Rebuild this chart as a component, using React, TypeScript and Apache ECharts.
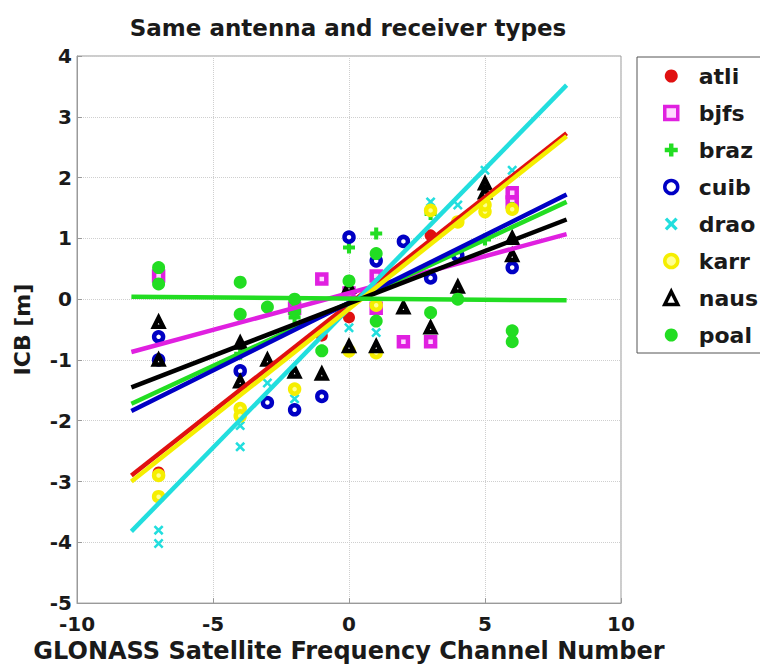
import React, { useEffect, useRef } from "react";
import * as echarts from "echarts";

const stations = ["atli", "bjfs", "braz", "cuib", "drao", "karr", "naus", "poal"];

const atliPts = [[-7, -2.85], [-4, -1.8], [-1, -0.6], [0, -0.3], [3, 1.05], [5, 1.5], [6, 1.7]];
const bjfsPts = [[-7, 0.38], [-2, -0.15], [-1, 0.33], [0, 0.1], [1, 0.38], [1, -0.15], [2, -0.7], [3, -0.7], [6, 1.75], [6, 1.6]];
const brazPts = [[-4, -0.9], [-2, -0.3], [-1, -0.85], [0, 0.85], [1, 1.08], [3, 1.4], [5, 0.98], [6, 1.5]];
const cuibPts = [[-7, -0.62], [-7, -1.0], [-4, -1.18], [-3, -1.7], [-2, -1.82], [-1, -1.6], [0, 1.02], [1, 0.63], [2, 0.95], [3, 0.35], [4, 0.72], [6, 0.52]];
const draoPts = [[-7, -3.8], [-7, -4.02], [-4, -2.08], [-4, -2.43], [-3, -1.38], [-2, -1.64], [0, -0.47], [1, -0.55], [3, 1.6], [4, 1.55], [5, 2.12], [6, 2.12]];
const karrPts = [[-7, -2.9], [-7, -3.25], [-4, -1.8], [-4, -1.92], [-2, -1.48], [0, -0.85], [1, -0.88], [1, -0.1], [3, 1.46], [4, 1.27], [5, 1.44], [5, 1.55], [6, 1.48]];
const nausPts = [[-7, -0.38], [-7, -1.0], [-4, -0.72], [-4, -1.36], [-3, -1.0], [-2, -1.2], [-1, -1.23], [0, 0.2], [0, -0.78], [1, -0.78], [2, -0.14], [3, -0.47], [4, 0.2], [5, 1.9], [5, 1.75], [6, 1.0], [6, 0.72]];
const poalPts = [[-7, 0.52], [-7, 0.25], [-4, 0.28], [-4, -0.25], [-3, -0.13], [-2, 0.0], [-2, -0.2], [-1, -0.85], [0, 0.3], [1, 0.75], [1, -0.36], [3, -0.22], [4, 0.0], [6, -0.52], [6, -0.7]];

const points = [atliPts, bjfsPts, brazPts, cuibPts, draoPts, karrPts, nausPts, poalPts];

// linear fit end values at channel -8 and +8
const fitX = [-8, 8];
const atliFit = [-2.9, 2.73];
const bjfsFit = [-0.87, 1.07];
const brazFit = [-1.72, 1.6];
const cuibFit = [-1.84, 1.72];
const draoFit = [-3.82, 3.52];
const karrFit = [-3.0, 2.68];
const nausFit = [-1.45, 1.31];
const poalFit = [0.04, -0.02];
const fits = [atliFit, bjfsFit, brazFit, cuibFit, draoFit, karrFit, nausFit, poalFit];

const xTicks = [-10, -5, 0, 5, 10];
const yTicks = [-5, -4, -3, -2, -1, 0, 1, 2, 3, 4];

const colors = ["#e01010", "#e020e0", "#22dd22", "#0000c4", "#22dede", "#f5ee00", "#000000", "#22dd22"];

const PLUS = "path://M3.3,0H6.7V3.3H10V6.7H6.7V10H3.3V6.7H0V3.3H3.3Z";
const CROSS = "path://M0,1.8L1.8,0L5,3.2L8.2,0L10,1.8L6.8,5L10,8.2L8.2,10L5,6.8L1.8,10L0,8.2L3.2,5Z";

const styles: any[] = [
  { symbol: "circle", size: 12, item: { color: colors[0], opacity: 1 } },
  { symbol: "rect", size: 9, item: { color: "#ffd8ff", borderColor: colors[1], borderWidth: 4.5, opacity: 1 } },
  { symbol: PLUS, size: 12, item: { color: colors[2], opacity: 1 } },
  { symbol: "circle", size: 9, item: { color: "#ffffff", borderColor: colors[3], borderWidth: 4.5, opacity: 1 } },
  { symbol: CROSS, size: 10, item: { color: colors[4], opacity: 1 } },
  { symbol: "circle", size: 9, item: { color: "#ffff90", borderColor: colors[5], borderWidth: 4.5, opacity: 1 } },
  { symbol: "triangle", size: 9, item: { color: "#ffffff", borderColor: colors[6], borderWidth: 4.5, opacity: 1 } },
  { symbol: "circle", size: 13, item: { color: colors[7], opacity: 1 } },
];

const FONT = "'DejaVu Sans', Arial, sans-serif";

export default function App() {
  const ref = useRef<HTMLDivElement>(null);
  useEffect(() => {
    const chart = echarts.init(ref.current!, null, { renderer: "svg" });
    const scatterSeries = stations.map((s, i) => ({
      name: s,
      type: "scatter",
      data: points[i],
      symbol: styles[i].symbol,
      symbolSize: styles[i].size,
      itemStyle: styles[i].item,
      z: 2,
    }));
    const lineSeries = stations.map((s, i) => ({
      name: s + " fit",
      type: "line",
      data: fitX.map((x, k) => [x, fits[i][k]]),
      showSymbol: false,
      symbol: "none",
      lineStyle: { color: colors[i], width: 4.5 },
      z: 3,
    }));
    chart.setOption({
      animation: false,
      backgroundColor: "#ffffff",
      title: {
        text: "Same antenna and receiver types",
        left: 343,
        top: 11,
        textAlign: "center",
        textStyle: { fontFamily: FONT, fontSize: 23, fontWeight: "bold", color: "#1a1a1a" },
      },
      legend: {
        orient: "vertical",
        left: 637,
        top: 57,
        padding: [8, 60, 7, 26],
        itemWidth: 13,
        itemHeight: 13,
        itemGap: 15,
        backgroundColor: "#ffffff",
        borderColor: "#555",
        borderWidth: 1,
        borderRadius: 0,
        textStyle: { fontFamily: FONT, fontSize: 22, fontWeight: "bold", color: "#1a1a1a", padding: [0, 0, 0, 16] },
        data: stations.map((s, i) => ({
          name: s,
          itemStyle: styles[i].item.borderWidth ? { ...styles[i].item, borderWidth: 3.5 } : { ...styles[i].item },
        })),
      },
      grid: {
        left: 77,
        right: 139,
        top: 56,
        bottom: 63,
        show: true,
        borderColor: "#9a9a9a",
        borderWidth: 1,
      },
      xAxis: {
        type: "value",
        min: xTicks[0],
        max: xTicks[xTicks.length - 1],
        interval: 5,
        name: "GLONASS Satellite Frequency Channel Number",
        nameLocation: "middle",
        nameGap: 34,
        nameTextStyle: { fontFamily: FONT, fontSize: 24, fontWeight: "bold", color: "#1a1a1a" },
        axisLine: { show: true, onZero: false, lineStyle: { color: "#9a9a9a" } },
        axisTick: { show: true, inside: true, length: 5, lineStyle: { color: "#9a9a9a" } },
        axisLabel: { fontFamily: FONT, fontSize: 20, fontWeight: "bold", color: "#1a1a1a", margin: 11, lineHeight: 20 },
        splitLine: { show: true, lineStyle: { color: "#cfcfcf", type: "dotted", width: 1 } },
      },
      yAxis: {
        type: "value",
        min: yTicks[0],
        max: yTicks[yTicks.length - 1],
        interval: 1,
        name: "ICB [m]",
        nameLocation: "middle",
        nameGap: 44,
        nameTextStyle: { fontFamily: FONT, fontSize: 22, fontWeight: "bold", color: "#1a1a1a" },
        axisLine: { show: true, onZero: false, lineStyle: { color: "#9a9a9a" } },
        axisTick: { show: true, inside: true, length: 5, lineStyle: { color: "#9a9a9a" } },
        axisLabel: { fontFamily: FONT, fontSize: 20, fontWeight: "bold", color: "#1a1a1a", margin: 5, lineHeight: 18 },
        splitLine: { show: true, lineStyle: { color: "#cfcfcf", type: "dotted", width: 1 } },
      },
      series: [...scatterSeries, ...lineSeries],
    });
    return () => chart.dispose();
  }, []);
  return <div ref={ref} style={{ width: 760, height: 668, position: "absolute", left: 0, top: 0 }} />;
}
